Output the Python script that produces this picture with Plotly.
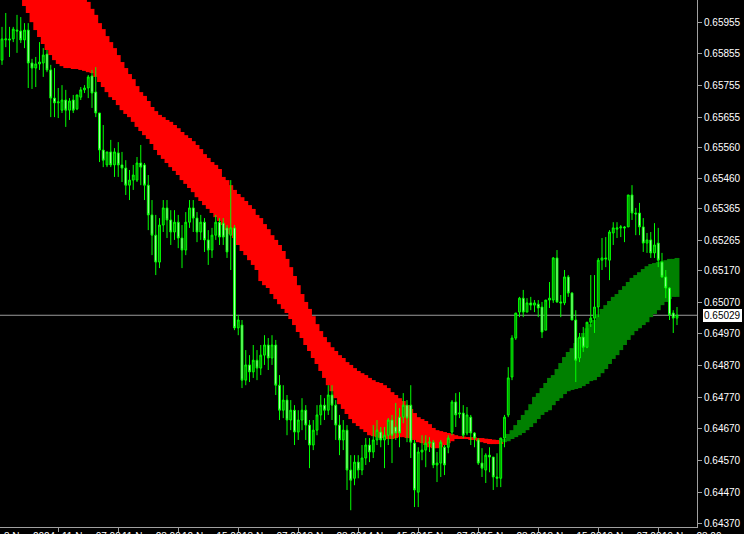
import plotly.graph_objects as go

POINT = 0.00001  # prices below are listed in points (5-digit quotes)

open_pts = [
    65835,65899,65902,65902,65930,65927,65899,65930,65826,65810,
    65823,65826,65854,65804,65715,65700,65677,65709,65677,65709,
    65681,65718,65741,65747,65785,65734,65668,65551,65504,65545,
    65504,65542,65504,65494,65440,65456,65456,65510,65504,
    65440,65346,65282,65197,65314,65368,65330,65292,65323,65273,
    65235,65323,65368,65336,65292,65323,65267,65235,65282,65323,
    65320,65305,65282,65305,64989,64998,
    64824,64872,64850,64887,64862,64903,64935,64894,64935,64808,
    64729,64761,64698,64729,64660,64698,64729,64682,64619,64666,
    64714,64745,64729,64777,64745,64682,64635,64666,64540,64514,
    64565,64540,64578,64619,64597,64635,
    64660,64635,64650,64698,64676,64707,64707,64745,64745,64625,
    64470,64597,64603,64625,64628,64556,64562,64612,64612,64660,
    64755,64717,64720,64657,64707,64657,64635,64562,64540,64587,
    64581,64518,64514,64641,
    64714,64834,64957,65039,65083,65039,65068,65061,65064,65055,
    64982,65077,65077,65210,65071,65068,65150,65099,65014,64894,
    64960,64928,65007,65020,65055,65203,65210,65203,65289,65301,
    65305,65308,65308,65409,65352,65352,65308,65257,65267,65226,
    65257,65197,65150,65115,65036,65020,
]
high_pts = [
    65940,65984,65940,65940,65978,65971,65952,65952,65839,65845,
    65892,65873,65867,65820,65810,65747,65756,65741,65715,65725,
    65725,65750,65756,65788,65804,65813,65668,65630,65545,65583,
    65557,65576,65545,65519,65488,65504,65529,65567,65510,
    65472,65393,65346,65336,65393,65393,65361,65361,65346,65314,
    65355,65393,65393,65355,65346,65336,65298,65305,65346,65336,
    65336,65314,65456,65314,65030,65014,
    64919,64903,64935,64919,64935,64966,64957,64966,64951,64840,
    64808,64777,64761,64745,64729,64767,64745,64698,64698,64745,
    64777,64767,64808,64808,64761,64714,64698,64682,64587,64587,
    64587,64619,64641,64641,64682,64698,
    64676,64676,64704,64714,64752,64736,64783,64761,64808,64635,
    64612,64650,64650,64644,64635,64597,64635,64619,64650,64761,
    64783,64786,64745,64739,64714,64660,64641,64609,64593,64612,
    64581,64593,64641,64714,
    64865,64966,65036,65087,65109,65083,65087,65077,65077,65071,
    65077,65134,65213,65235,65093,65172,65156,65102,65045,64973,
    64992,65007,65156,65156,65210,65273,65276,65298,65323,65323,
    65314,65311,65409,65440,65368,65384,65336,65289,65292,65320,
    65305,65226,65172,65118,65045,65055,
]
low_pts = [
    65820,65876,65845,65892,65858,65889,65873,65747,65744,65750,
    65804,65782,65797,65655,65655,65652,65668,65624,65646,65668,
    65677,65709,65731,65715,65684,65655,65513,65497,65497,65497,
    65466,65466,65450,65409,65393,65425,65450,65440,65393,
    65298,65219,65156,65178,65292,65273,65251,65267,65241,65178,
    65219,65305,65292,65260,65267,65229,65188,65210,65267,65251,
    65251,65210,65172,64982,64966,64799,
    64808,64818,64831,64824,64840,64872,64856,64872,64777,64698,
    64704,64650,64666,64619,64635,64666,64635,64546,64603,64650,
    64682,64698,64714,64698,64635,64587,64603,64477,64413,64492,
    64514,64524,64556,64565,64578,64619,
    64612,64546,64619,64562,64635,64612,64688,64628,64578,64423,
    64423,64571,64549,64597,64546,64502,64518,64524,64593,64650,
    64676,64704,64641,64650,64619,64612,64556,64518,64499,64533,
    64477,64486,64486,64612,
    64707,64824,64951,65023,65023,65039,65045,65039,65023,64957,
    64982,65052,65068,65068,65023,65061,65087,65014,64818,64881,
    64913,64925,64992,64973,65023,65172,65181,65140,65251,65273,
    65276,65260,65308,65330,65282,65282,65229,65226,65210,65210,
    65181,65147,65083,65014,64973,64998,
]
close_pts = [
    65902,65902,65899,65933,65927,65899,65930,65826,65810,65823,
    65829,65851,65804,65715,65700,65703,65709,65677,65706,65677,
    65725,65741,65747,65782,65731,65668,65551,65519,65545,65504,
    65545,65504,65494,65440,65456,65472,65510,65497,65440,
    65346,65282,65197,65314,65368,65330,65292,65323,65273,65235,
    65323,65368,65336,65292,65323,65267,65235,65282,65323,65276,
    65276,65229,65305,64989,65014,64824,
    64872,64850,64887,64862,64903,64935,64894,64935,64808,64729,
    64761,64698,64729,64660,64698,64729,64682,64619,64666,64714,
    64745,64729,64777,64745,64682,64635,64666,64540,64508,64565,
    64540,64578,64619,64597,64635,64666,
    64635,64650,64698,64650,64657,64657,64745,64704,64628,64477,
    64597,64603,64625,64628,64556,64562,64628,64556,64641,64755,
    64714,64720,64650,64714,64657,64641,64562,64546,64587,64581,
    64518,64514,64641,64707,
    64831,64957,65036,65083,65039,65068,65061,65068,65052,64976,
    65077,65083,65210,65071,65068,65150,65099,65014,64887,64960,
    64928,65007,65020,65055,65203,65210,65207,65292,65305,65305,
    65308,65305,65409,65352,65349,65308,65257,65267,65226,65251,
    65203,65150,65115,65030,65020,65029,
]
# cloud indicator: fast and slow lines
fast_pts = [
    66104,66095,66079,66063,66044,66025,66006,65984,65955,65930,
    65908,65886,65867,65851,65835,65823,65816,65810,65810,65807,
    65807,65804,65801,65797,65794,65782,65766,65750,65734,65718,
    65709,65693,65677,65665,65655,65640,65624,65611,65598,65586,
    65570,65551,65535,65523,65510,65497,65485,65472,65456,65444,
    65431,65418,65402,65390,65377,65365,65352,65339,65327,65314,
    65298,65286,65273,65251,65232,65219,65203,65188,65172,65137,
    65124,65115,65096,65080,65064,65049,65036,65017,64998,64976,
    64957,64935,64916,64894,64875,64853,64831,64808,64789,64767,
    64748,64733,64717,64701,64688,64679,64669,64660,64650,64647,
    64644,64641,64641,64638,64638,64641,64644,64644,64641,64641,
    64635,64628,64625,64619,64612,64609,64609,64612,64619,64625,
    64631,64638,64641,64641,64641,64638,64635,64631,64628,64625,
    64622,64622,64622,64625,64638,64654,64666,64682,64698,64714,
    64729,64748,64771,64783,64799,64815,64831,64840,64859,64878,
    64897,64913,64925,64941,64957,64973,64988,65001,65014,65030,
    65049,65061,65074,65087,65096,65109,65121,65134,65147,65156,
    65165,65175,65184,65191,65194,65197,65200,65203,65207,65207,
    65210,
]
slow_pts = [
    66467,66448,66429,66407,66388,66369,66350,66332,66313,66290,
    66271,66253,66234,66211,66192,66174,66155,66136,66113,66095,
    66076,66057,66038,66019,65997,65978,65952,65933,65911,65892,
    65873,65851,65829,65810,65791,65775,65753,65734,65722,65706,
    65687,65674,65662,65655,65646,65640,65630,65620,65608,65598,
    65589,65579,65567,65554,65538,65526,65513,65504,65491,65466,
    65456,65440,65425,65412,65402,65390,65377,65365,65346,65336,
    65317,65301,65282,65267,65251,65232,65207,65181,65153,65124,
    65096,65071,65049,65026,65001,64979,64960,64944,64928,64916,
    64903,64894,64881,64872,64862,64853,64846,64840,64831,64824,
    64818,64815,64808,64799,64786,64777,64767,64758,64745,64733,
    64720,64707,64701,64695,64685,64673,64666,64663,64660,64657,
    64654,64650,64647,64646,64644,64644,64643,64641,64641,64639,
    64638,64636,64635,64631,64628,64631,64638,64644,64650,64657,
    64666,64676,64688,64701,64714,64723,64729,64745,64758,64767,
    64780,64789,64793,64796,64799,64805,64812,64821,64824,64834,
    64846,64859,64875,64891,64903,64919,64935,64951,64966,64979,
    64988,64998,65007,65023,65033,65045,65061,65071,65080,65087,
    65087,
]

y_tick_values = [0.65955, 0.65855, 0.65755, 0.65655, 0.65560, 0.65460, 0.65365,
                 0.65265, 0.65170, 0.65070, 0.64970, 0.64870, 0.64770, 0.64670,
                 0.64570, 0.64470, 0.64370]
y_tick_labels = ["%.5f" % v for v in y_tick_values]
current_price = 0.65029

time_tick_bars = [-0.5, 15, 31, 47, 63, 79, 95, 111, 127, 143, 159, 175]
time_tick_labels = ["8 Nov 2024", "11 Nov 07:00", "11 Nov 23:00", "12 Nov 15:00",
                    "13 Nov 07:00", "13 Nov 23:00", "14 Nov 15:00", "15 Nov 07:00",
                    "15 Nov 23:00", "18 Nov 15:00", "19 Nov 07:00", "19 Nov 23:00"]

n = len(close_pts)
idx = list(range(n))
o = [v * POINT for v in open_pts]
h = [v * POINT for v in high_pts]
l = [v * POINT for v in low_pts]
c = [v * POINT for v in close_pts]
fa = [v * POINT for v in fast_pts]
sl = [v * POINT for v in slow_pts]

base = [min(a, b) for a, b in zip(fa, sl)]
height = [abs(a - b) for a, b in zip(fa, sl)]
cloud_colors = ["#ff0000" if a < b else "#008000" for a, b in zip(fa, sl)]

fig = go.Figure()
fig.add_trace(go.Bar(
    x=idx, base=base, y=height, width=1.3,
    marker=dict(color=cloud_colors, line=dict(width=0)),
    hoverinfo="skip", showlegend=False,
))
fig.add_trace(go.Candlestick(
    x=idx, open=o, high=h, low=l, close=c,
    increasing=dict(line=dict(color="#00ff00", width=1), fillcolor="#008000"),
    decreasing=dict(line=dict(color="#00ff00", width=1), fillcolor="#d0ffd0"),
    whiskerwidth=0, hoverinfo="skip", showlegend=False,
))

px_per_bar = 3.75
x0 = -2 / px_per_bar
x1 = x0 + 697 / px_per_bar
y_top = 0.66025
y_bot = 0.64360

annotations = []
for t, lab in zip(time_tick_bars, time_tick_labels):
    annotations.append(dict(
        x=t, y=0, xref="x", yref="paper", xanchor="left", yanchor="top",
        xshift=2, yshift=-2, text=lab, showarrow=False,
        font=dict(color="#ffffff", size=10, family="Liberation Sans"),
    ))
annotations.append(dict(
    x=1, y=current_price, xref="paper", yref="y", xanchor="left", yanchor="middle",
    xshift=6, text="%.5f" % current_price, showarrow=False,
    bgcolor="#ffffff", bordercolor="#808080", borderwidth=0, borderpad=1,
    font=dict(color="#000000", size=10, family="Liberation Sans"),
))

fig.update_layout(
    width=744, height=534,
    margin=dict(l=0, r=47, t=0, b=7, autoexpand=False),
    paper_bgcolor="#000000", plot_bgcolor="#000000",
    barmode="overlay", showlegend=False,
    annotations=annotations,
    shapes=[dict(type="line", xref="paper", yref="y", x0=0, x1=1,
                 y0=current_price, y1=current_price, layer="below",
                 line=dict(color="#9a9a9a", width=1))],
    xaxis=dict(
        range=[x0, x1], showgrid=False, zeroline=False,
        showline=True, linecolor="#a0a0a0", linewidth=1,
        ticks="outside", ticklen=4, tickcolor="#a0a0a0",
        tickvals=time_tick_bars[1:], showticklabels=False,
        rangeslider=dict(visible=False), fixedrange=True,
    ),
    yaxis=dict(
        range=[y_bot, y_top], side="right", showgrid=False, zeroline=False,
        showline=True, linecolor="#a0a0a0", linewidth=1,
        ticks="outside", ticklen=4, tickcolor="#a0a0a0",
        tickvals=y_tick_values, ticktext=y_tick_labels,
        tickfont=dict(color="#ffffff", size=10, family="Liberation Sans"),
        automargin=False, fixedrange=True,
    ),
)

fig.write_html("out.html", config={"displayModeBar": False},
               post_script="document.body.style.margin='0';")
